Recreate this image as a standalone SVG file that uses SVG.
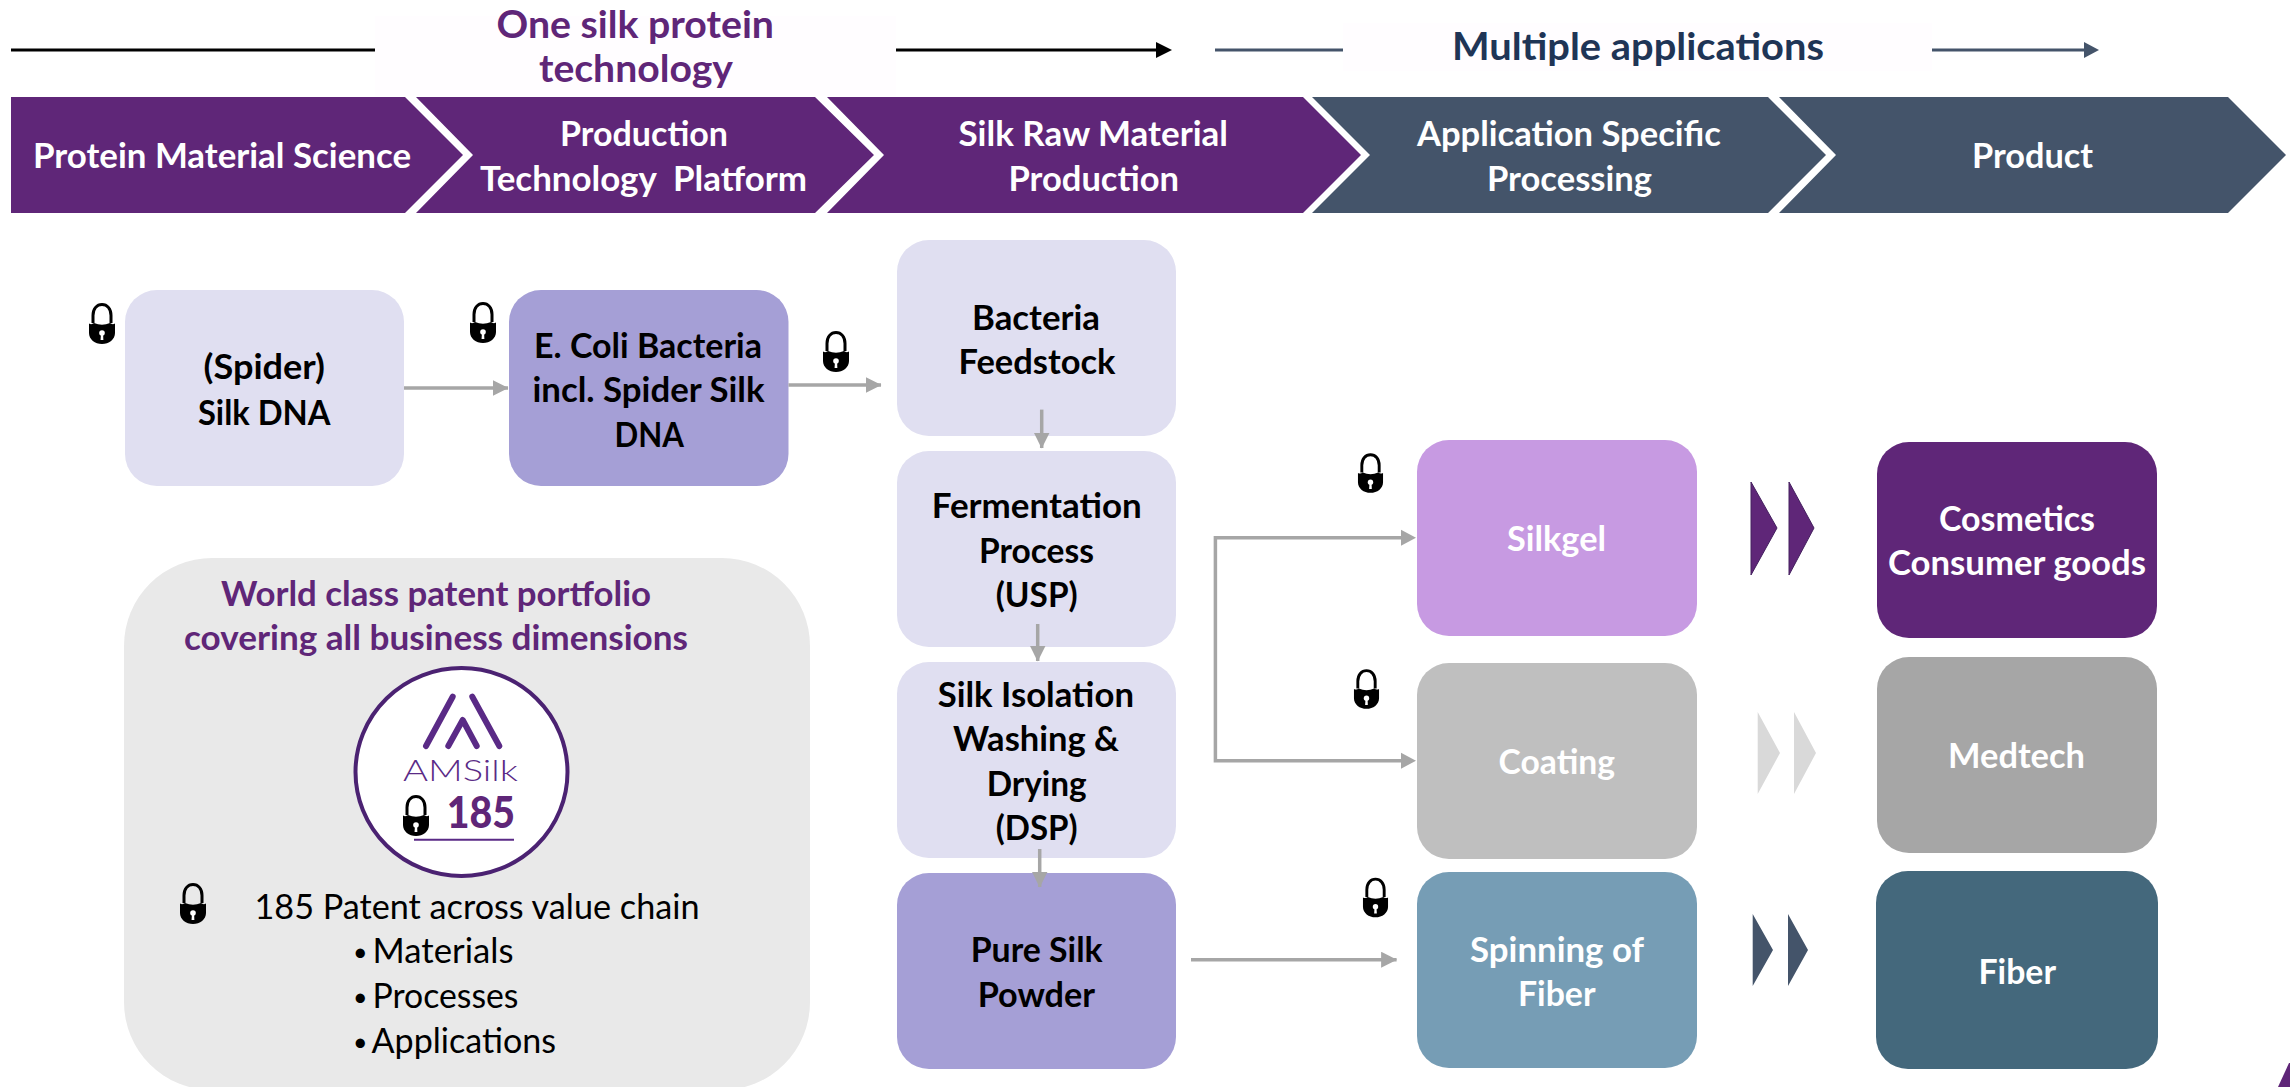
<svg xmlns="http://www.w3.org/2000/svg" xmlns:xlink="http://www.w3.org/1999/xlink" width="2290" height="1087" viewBox="0 0 2290 1087">
<style>
text{font-family:"Lato","Carlito","Liberation Sans",sans-serif;font-size:34px;font-weight:700;transform:translateY(1.5px)}
.w{fill:#fff}.k{fill:#000}.p{fill:#5f2678}.s{fill:#1f3556}
.r{font-weight:400}
.b{font-size:25px;font-weight:400;fill:#000}
.t{font-size:38px}
.conn{fill:none;stroke:#a6a6a6;stroke-width:3.5}
.pl{fill:#5f2678}.sl{fill:#44546a}
.lt{fill:#e0dff1}.md{fill:#a59fd6}
</style>
<defs>
<marker id="ah" markerUnits="userSpaceOnUse" markerWidth="16" markerHeight="16" refX="15.5" refY="8" orient="auto"><path d="M0,0L16,8L0,16Z" fill="#a6a6a6"/></marker>
<symbol id="lock" viewBox="0 0 28 41" overflow="visible">
<path d="M5,20V12.500C5,5.500 9,1.500 14,1.500S23,5.500 23,12.500V20" fill="none" stroke="#000" stroke-width="3"/>
<path d="M1,20.500Q3.500,22 6,20Q14,23.500 22,20Q24.500,22 27,20.500V30C27,36.500 21,41 14,41S1,36.500 1,30Z" fill="#000"/>
<circle cx="14" cy="30" r="2.800" fill="#fff"/><path d="M13,30H15L15.400,37H12.600Z" fill="#fff"/>
</symbol>
</defs>
<rect width="2290" height="1087" fill="#fff"/>

<g id="banner-lines">
<rect x="375" y="16" width="521" height="80" fill="#fffdff"/>
<rect x="1343" y="23" width="589" height="48" fill="#fffdff"/>
<path d="M11,50H375" stroke="#000" stroke-width="3"/>
<path d="M896,50H1160" stroke="#000" stroke-width="3"/>
<path d="M1172,50L1156,42V58Z" fill="#000"/>
<path d="M1215,50H1343" stroke="#44546a" stroke-width="3"/>
<path d="M1932,50H2088" stroke="#44546a" stroke-width="3"/>
<path d="M2099,50L2084,42V58Z" fill="#44546a"/>
<text class="p t" x="496.500" y="36" textLength="277.500" lengthAdjust="spacingAndGlyphs">One silk protein</text>
<text class="p t" x="539" y="80" textLength="194" lengthAdjust="spacingAndGlyphs">technology</text>
<text class="s t" x="1452" y="58" textLength="372" lengthAdjust="spacingAndGlyphs">Multiple applications</text>
</g>

<g id="stage-1"><path class="pl" d="M11,97H405L463,155L405,213H11Z"/><text class="w" x="33" y="166" textLength="378" lengthAdjust="spacingAndGlyphs">Protein Material Science</text></g>
<g id="stage-2"><path class="pl" d="M416,97H815L874,155L815,213H416L473,155Z"/><text class="w" x="560" y="144" textLength="168" lengthAdjust="spacingAndGlyphs">Production</text><text class="w" xml:space="preserve" x="480" y="189" textLength="327" lengthAdjust="spacingAndGlyphs">Technology  Platform</text></g>
<g id="stage-3"><path class="pl" d="M827,97H1303L1361,155L1303,213H827L884,155Z"/><text class="w" x="958.500" y="144" textLength="269.500" lengthAdjust="spacingAndGlyphs">Silk Raw Material</text><text class="w" x="1008.500" y="189" textLength="170.500" lengthAdjust="spacingAndGlyphs">Production</text></g>
<g id="stage-4"><path class="sl" d="M1312,97H1768L1826,155L1768,213H1312L1370,155Z"/><text class="w" x="1417" y="144" textLength="304" lengthAdjust="spacingAndGlyphs">Application Specific</text><text class="w" x="1487" y="189" textLength="165" lengthAdjust="spacingAndGlyphs">Processing</text></g>
<g id="stage-5"><path class="sl" d="M1779,97H2228L2286,155L2228,213H1779L1836,155Z"/><text class="w" x="1972" y="166" textLength="121" lengthAdjust="spacingAndGlyphs">Product</text></g>

<g id="node-silk-dna"><rect class="lt" x="125" y="290" width="279" height="196" rx="32"/><text class="k" x="203.600" y="377" textLength="121.400" lengthAdjust="spacingAndGlyphs">(Spider)</text><text class="k" x="198" y="423" textLength="132.500" lengthAdjust="spacingAndGlyphs">Silk DNA</text></g>
<g id="node-ecoli"><rect class="md" x="509" y="290" width="279.500" height="196" rx="32"/><text class="k" x="534" y="356" textLength="228" lengthAdjust="spacingAndGlyphs">E. Coli Bacteria</text><text class="k" x="532.500" y="400.500" textLength="232" lengthAdjust="spacingAndGlyphs">incl. Spider Silk</text><text class="k" x="614.500" y="445" textLength="69.500" lengthAdjust="spacingAndGlyphs">DNA</text></g>
<g id="node-bacteria"><rect class="lt" x="897" y="240" width="279" height="196" rx="32"/><text class="k" x="972" y="328" textLength="128" lengthAdjust="spacingAndGlyphs">Bacteria</text><text class="k" x="958.500" y="372.500" textLength="157" lengthAdjust="spacingAndGlyphs">Feedstock</text></g>
<g id="node-fermentation"><rect class="lt" x="897" y="451" width="279" height="196" rx="32"/><text class="k" x="931.700" y="516" textLength="210" lengthAdjust="spacingAndGlyphs">Fermentation</text><text class="k" x="979" y="561" textLength="115" lengthAdjust="spacingAndGlyphs">Process</text><text class="k" x="995.700" y="605.500" textLength="82" lengthAdjust="spacingAndGlyphs">(USP)</text></g>
<g id="node-isolation"><rect class="lt" x="897" y="662" width="279" height="196" rx="32"/><text class="k" x="937.700" y="705" textLength="196.300" lengthAdjust="spacingAndGlyphs">Silk Isolation</text><text class="k" x="953" y="749" textLength="166" lengthAdjust="spacingAndGlyphs">Washing &amp;</text><text class="k" x="986.700" y="794" textLength="100" lengthAdjust="spacingAndGlyphs">Drying</text><text class="k" x="995.700" y="838" textLength="82" lengthAdjust="spacingAndGlyphs">(DSP)</text></g>
<g id="node-powder"><rect class="md" x="897" y="873" width="279" height="196" rx="32"/><text class="k" x="970.700" y="960.500" textLength="132" lengthAdjust="spacingAndGlyphs">Pure Silk</text><text class="k" x="977.700" y="1005" textLength="117.300" lengthAdjust="spacingAndGlyphs">Powder</text></g>
<g id="node-silkgel"><rect fill="#c79ae2" x="1417" y="440" width="280" height="196" rx="32"/><text class="w" x="1507" y="549" textLength="99" lengthAdjust="spacingAndGlyphs">Silkgel</text></g>
<g id="node-coating"><rect fill="#bfbfbf" x="1417" y="663" width="280" height="196" rx="32"/><text class="w" x="1498.600" y="772" textLength="116.400" lengthAdjust="spacingAndGlyphs">Coating</text></g>
<g id="node-spinning"><rect fill="#769db5" x="1417" y="872" width="280" height="196" rx="32"/><text class="w" x="1470" y="960" textLength="174" lengthAdjust="spacingAndGlyphs">Spinning of</text><text class="w" x="1518" y="1004" textLength="77.500" lengthAdjust="spacingAndGlyphs">Fiber</text></g>
<g id="node-cosmetics"><rect class="pl" x="1877" y="442" width="280" height="196" rx="32"/><text class="w" x="1939" y="529" textLength="156" lengthAdjust="spacingAndGlyphs">Cosmetics</text><text class="w" x="1888" y="573" textLength="258" lengthAdjust="spacingAndGlyphs">Consumer goods</text></g>
<g id="node-medtech"><rect fill="#a6a6a6" x="1877" y="657" width="280" height="196" rx="32"/><text class="w" x="1948" y="766" textLength="137" lengthAdjust="spacingAndGlyphs">Medtech</text></g>
<g id="node-fiber"><rect fill="#44687c" x="1876" y="871" width="282" height="198" rx="32"/><text class="w" x="1978.500" y="982" textLength="77.500" lengthAdjust="spacingAndGlyphs">Fiber</text></g>

<g id="patent-panel">
<rect x="124" y="558" width="686" height="532" rx="88" fill="#e9e9e9"/>
<text class="p" x="221" y="604" textLength="430" lengthAdjust="spacingAndGlyphs">World class patent portfolio</text>
<text class="p" x="184" y="648" textLength="504" lengthAdjust="spacingAndGlyphs">covering all business dimensions</text>
<ellipse cx="461.500" cy="772" rx="106" ry="104" fill="#fff" stroke="#4b2272" stroke-width="4"/>
<path d="M452.700,696.700L426,746M472.300,696.700L499.300,746M448.300,746L462.700,720L476.700,746" fill="none" stroke="#5a2a86" stroke-width="6" stroke-linecap="round" stroke-linejoin="round"/>
<text x="403" y="779" textLength="115" lengthAdjust="spacingAndGlyphs" fill="#5a2a86" style="font-size:30px;font-weight:300">AMSilk</text>
<text class="p" x="446.700" y="826" textLength="68.300" lengthAdjust="spacingAndGlyphs" style="font-size:44px;font-weight:900">185</text>
<path d="M414,839.700H514" stroke="#5a2a86" stroke-width="2"/>
<use xlink:href="#lock" href="#lock" x="402" y="795" width="28" height="41"/>
<use xlink:href="#lock" href="#lock" x="179" y="883" width="28" height="41"/>
<text class="k r" x="254.500" y="917" textLength="445" lengthAdjust="spacingAndGlyphs">185 Patent across value chain</text>
<text class="b" x="353" y="959">•</text><text class="k r" x="372.500" y="961" textLength="141" lengthAdjust="spacingAndGlyphs">Materials</text>
<text class="b" x="353" y="1004">•</text><text class="k r" x="372.500" y="1006" textLength="146" lengthAdjust="spacingAndGlyphs">Processes</text>
<text class="b" x="353" y="1049">•</text><text class="k r" x="371.600" y="1051" textLength="184.400" lengthAdjust="spacingAndGlyphs">Applications</text>
</g>

<g id="connectors">
<path class="conn" marker-end="url(#ah)" d="M404,388H508"/>
<path class="conn" marker-end="url(#ah)" d="M788.500,385H881"/>
<path class="conn" marker-end="url(#ah)" d="M1041.700,409.600V448"/>
<path class="conn" marker-end="url(#ah)" d="M1037.700,624V661"/>
<path class="conn" marker-end="url(#ah)" d="M1039.700,849V887"/>
<path class="conn" d="M1405,537.700H1215.400V760.700H1405"/>
<path d="M1416,537.700L1401,529.700V545.700ZM1416,760.700L1401,752.700V768.700Z" fill="#a6a6a6"/>
<path class="conn" marker-end="url(#ah)" d="M1191,959.700H1396.600"/>
</g>

<g id="locks">
<use xlink:href="#lock" href="#lock" x="88" y="303" width="28" height="41"/>
<use xlink:href="#lock" href="#lock" x="469" y="302" width="28" height="41"/>
<use xlink:href="#lock" href="#lock" x="822" y="331" width="28" height="41"/>
<use xlink:href="#lock" href="#lock" x="1357" y="453" width="27" height="40"/>
<use xlink:href="#lock" href="#lock" x="1353" y="669" width="27" height="40"/>
<use xlink:href="#lock" href="#lock" x="1362" y="877" width="27" height="41"/>
</g>

<g id="double-arrows">
<path d="M1751,482L1777,528L1751,575ZM1789,482L1814,528L1789,575Z" fill="#5f2678" stroke="#44205f" stroke-width="1"/>
<path d="M1757.700,712L1780,753L1757.700,794ZM1794,712L1816,753L1794,794Z" fill="#d9d9d9"/>
<path d="M1752.700,914L1773,950L1752.700,986ZM1788,914L1808,950L1788,986Z" fill="#44546a"/>
</g>

<path id="corner-mark" d="M2289,1063L2290,1063V1087H2278Z" fill="#5f2678"/>
</svg>
